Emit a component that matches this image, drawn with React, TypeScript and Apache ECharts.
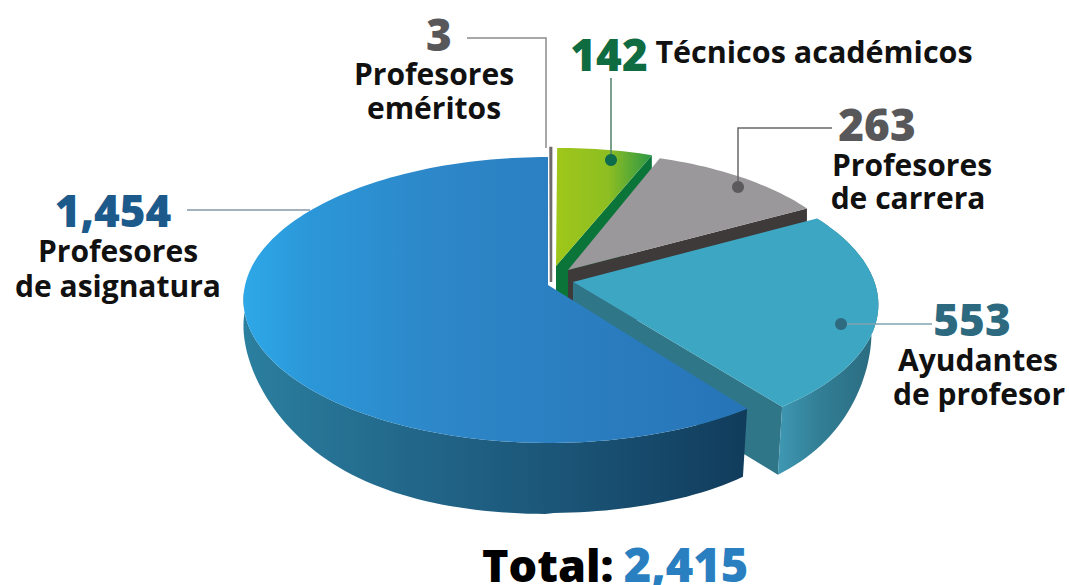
import React, { useEffect, useRef } from "react";
import * as echarts from "echarts";

const categories = ["Profesores eméritos", "Técnicos académicos", "Profesores de carrera", "Ayudantes de profesor", "Profesores de asignatura"];
const values = [3, 142, 263, 553, 1454];
const totalLabel = "Total:";
const FONT = "'Open Sans', 'Noto Sans', sans-serif";

// perspective disc
const CX = 547, CY = 285, A = 141.4, B = 303.3, K = 0.105, DEG = Math.PI / 180;

const grad = (x0: number, y0: number, x1: number, y1: number, stops: [number, string][]) =>
  new echarts.graphic.LinearGradient(x0, y0, x1, y1, stops.map(([offset, color]) => ({ offset, color })));

type Look = {
  apex: number[]; from: number[]; to: number[];
  top: any; stroke?: string; side?: any; sideTo?: number; cut?: any; cutFollowsSide?: boolean;
};
const looks: Look[] = [
  { apex: [551, 282], from: [3.5, -9], to: [2, -9], top: "#6f6b6c", stroke: "#6f6b6c" },
  {
    apex: [556, 266], from: [8, -9], to: [3, -10],
    top: grad(0, 0, 1, 0, [[0, "#a0c71a"], [0.55, "#8dbe22"], [1, "#2c9746"]]), cut: "#0a7439",
  },
  { apex: [568, 270], from: [11, -7], to: [8, -11], top: "#9a989a", cut: "#3f3a3a" },
  {
    apex: [573, 282], from: [18, -1], to: [37, -2], top: "#3da7c3", cut: "#2f7689", cutFollowsSide: true,
    side: grad(0, 0, 1, 0, [[0, "#3f98b3"], [0.4, "#327f96"], [1, "#2a6a7e"]]),
  },
  {
    apex: [548, 285], from: [2, 0], to: [1, 0],
    top: grad(0, 0, 1, 0, [[0, "#2ea8e8"], [0.13, "#2b97d8"], [0.38, "#2d87c8"], [1, "#2774b8"]]),
    side: grad(0, 0, 1, 0, [[0, "#2b7f9f"], [0.33, "#22678a"], [0.66, "#1a5375"], [1, "#113c5c"]]), sideTo: 270,
  },
];

function point(theta: number, off: number[]) {
  const s = Math.sin(theta * DEG), c = Math.cos(theta * DEG), w = 1 + K * c;
  return [CX + (B * s) / w + off[0], CY - (A * c) / w + off[1]];
}
function lower(theta: number, p: number[]) {
  const s = Math.sin(theta * DEG);
  if (s > 0) return [p[0] - 7 * s, p[1] + 70 - 45 * Math.pow(s, 6)];
  return [p[0], p[1] + 71 - 46 * s * s * s * s];
}

const total = values.reduce((a, b) => a + b, 0);

function renderSlice(params: any, api: any) {
  const i = params.dataIndex;
  const before = values.slice(0, i).reduce((a, b) => a + b, 0);
  const t0 = (before / total) * 360;
  const t1 = ((before + api.value(0)) / total) * 360;
  const look = looks[i];
  const n = Math.max(2, Math.ceil((t1 - t0) / 1.5));
  const arc: number[][] = [];
  const ring: { t: number; p: number[] }[] = [];
  for (let j = 0; j <= n; j++) {
    const f = j / n;
    const t = t0 + (t1 - t0) * f;
    const off = [look.from[0] + (look.to[0] - look.from[0]) * f, look.from[1] + (look.to[1] - look.from[1]) * f];
    const p = point(t, off);
    arc.push(p);
    ring.push({ t, p });
  }
  const children: any[] = [];
  if (look.cut) {
    const end = arc[arc.length - 1];
    const endLow = look.cutFollowsSide ? lower(t1, end) : [end[0], end[1] + 68];
    children.push({
      type: "polygon",
      shape: { points: [look.apex, end, endLow, [look.apex[0], look.apex[1] + 68]] },
      style: { fill: look.cut },
    });
  }
  if (look.side) {
    const lim = look.sideTo ?? t1;
    const seg = ring.filter((r) => r.t <= lim + 0.01);
    const bottom = seg.map((r) => lower(r.t, r.p)).reverse();
    children.push({
      type: "polygon",
      shape: { points: [...seg.map((r) => r.p), ...bottom] },
      style: { fill: look.side },
    });
  }
  children.push({
    type: "polygon",
    shape: { points: [look.apex, ...arc] },
    style: { fill: look.top, stroke: look.stroke, lineWidth: look.stroke ? 2.5 : 0 },
  });
  return { type: "group", children };
}

const txt = (text: string, x: number, y: number, size: number, weight: number, fill: string, align = "center") => ({
  type: "text", x, y, z: 10,
  style: { text, fontFamily: FONT, fontSize: size, fontWeight: weight, fill, textAlign: align, textVerticalAlign: "middle" },
});
const line = (pts: number[][], stroke: string) => ({
  type: "polyline", z: 5, shape: { points: pts }, style: { stroke, lineWidth: 1.5, fill: "none" },
});
const dot = (x: number, y: number, fill: string) => ({
  type: "circle", z: 6, shape: { cx: x, cy: y, r: 6 }, style: { fill },
});
const fmt = (v: number) => v.toLocaleString("en-US");

export default function App() {
  const ref = useRef<HTMLDivElement>(null);
  useEffect(() => {
    const chart = echarts.init(ref.current!, null, { renderer: "svg" });
    const GREY = "#58585a", INK = "#111111", LS = 30, LW = 700;
    chart.setOption({
      animation: false,
      backgroundColor: "#ffffff",
      series: [{
        type: "custom",
        coordinateSystem: "none",
        silent: true,
        renderItem: renderSlice,
        data: values.map((v, i) => ({ name: categories[i], value: [v] })),
      }],
      graphic: [
        line([[467, 38], [546, 38], [546, 148]], "#8a8a8a"),
        line([[611, 78], [611, 160]], "#4d7f6a"),
        dot(611, 160, "#0d6c4c"),
        line([[738, 187], [738, 128], [832, 128]], "#6a686a"),
        dot(738, 187, "#5c5a5c"),
        line([[841, 324], [932, 324]], "#7fa4b2"),
        dot(841, 324, "#2e6b80"),
        line([[187, 210], [310, 210]], "#8598a6"),

        txt(fmt(values[0]), 439, 34, 44, 800, GREY),
        txt("Profesores", 434, 73, LS, LW, INK),
        txt("eméritos", 434, 107, LS, LW, INK),
        txt(fmt(values[1]), 609, 54, 44, 800, "#0f6b40"),
        txt("Técnicos académicos", 814, 51, 30.5, LW, INK),
        txt(fmt(values[2]), 877, 124, 44, 800, GREY),
        txt("Profesores", 912, 164, LS, LW, INK),
        txt("de carrera", 908, 197, LS, LW, INK),
        txt(fmt(values[3]), 972, 319, 44, 800, "#2d6a80"),
        txt("Ayudantes", 978, 359, LS, LW, INK),
        txt("de profesor", 979, 393, LS, LW, INK),
        txt(fmt(values[4]), 113, 210, 44, 800, "#1c5a8c"),
        txt("Profesores", 118, 250, LS, LW, INK),
        txt("de asignatura", 118, 285, LS, LW, INK),
        txt(totalLabel, 482, 564, 45, 800, "#000000", "left"),
        txt(fmt(total), 686, 564, 47, 800, "#2a7fc1"),
      ],
    });
    return () => chart.dispose();
  }, []);
  return <div ref={ref} style={{ position: "absolute", left: 0, top: 0, width: 1069, height: 585 }} />;
}
